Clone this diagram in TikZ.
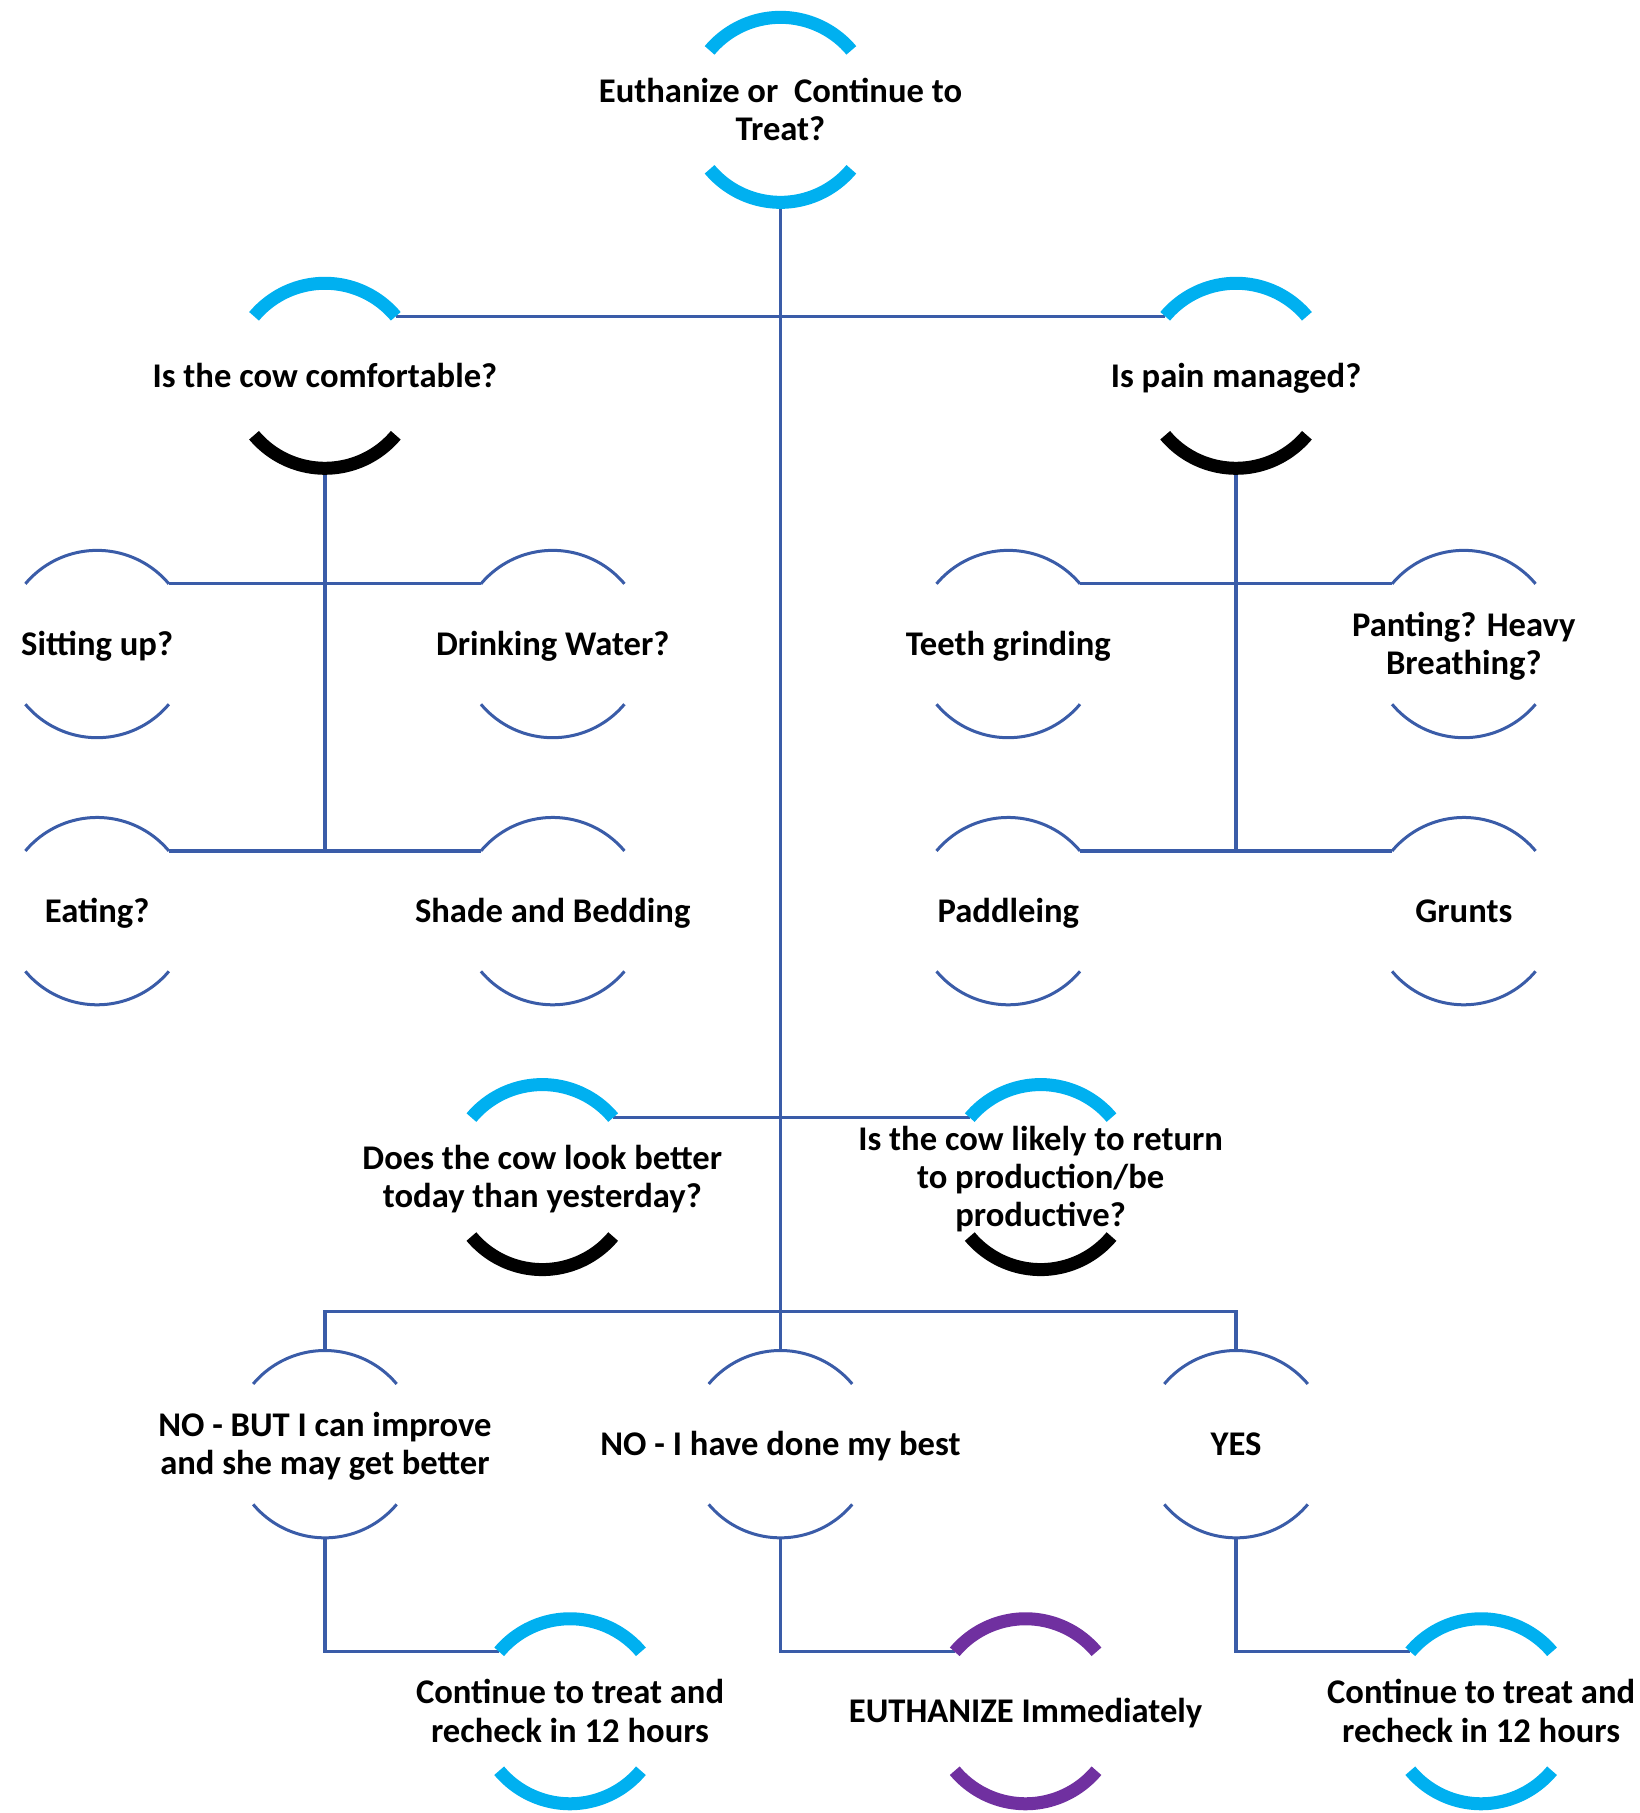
\documentclass[tikz,border=0pt]{standalone}
\usepackage{fontspec}
\setmainfont{Carlito}
\usetikzlibrary{calc}
\pgfdeclarelayer{background}
\pgfsetlayers{background,main}
\definecolor{cyanarc}{HTML}{00B0F0}
\definecolor{lineblue}{HTML}{3A5CA8}
\definecolor{purplearc}{HTML}{7030A0}
\tikzset{
  txt/.style={font=\bfseries\fontsize{17.3}{19.1}\selectfont, align=center, inner sep=0pt},
  conn/.style={draw=lineblue, line width=1.6pt},
  cyanthick/.style={draw=cyanarc, line width=6.5pt},
  blackthick/.style={draw=black, line width=6.5pt},
  purplethick/.style={draw=purplearc, line width=6.5pt},
  thinarc/.style={draw=lineblue, line width=1.5pt},
}
% name, x, y, radius, top style, bottom style, text
\newcommand\qnode[7]{%
  \node[txt] (#1) at (#2,#3-3.5) {#7};
  \coordinate (#1-c) at (#2,#3);
  \path (#1-c) ++(140:#4) coordinate (#1-tl);
  \path (#1-c) ++(40:#4) coordinate (#1-tr);
  \path (#1-c) ++(90:#4) coordinate (#1-top);
  \path (#1-c) ++(-90:#4) coordinate (#1-bot);
  \draw[#5] (#1-tr) arc[start angle=40,end angle=140,radius=#4];
  \draw[#6] ([shift={(220:#4)}]#1-c) arc[start angle=220,end angle=320,radius=#4];
}
\begin{document}
\begin{tikzpicture}[x=0.578pt,y=0.578pt]
\useasboundingbox (0,0) rectangle (1418,-1568);
\qnode{top}{675}{-95}{80}{cyanthick}{cyanthick}{\strut Euthanize or\ \ Continue to\strut\\\strut Treat?\strut}
\qnode{comf}{281}{-325}{80}{cyanthick}{blackthick}{\strut Is the cow comfortable?\strut}
\qnode{pain}{1069}{-325}{80}{cyanthick}{blackthick}{\strut Is pain managed?\strut}
\qnode{sit}{84}{-557}{81}{thinarc}{thinarc}{\strut Sitting up?\strut}
\qnode{drink}{478}{-557}{81}{thinarc}{thinarc}{\strut Drinking Water?\strut}
\qnode{eat}{84}{-788}{81}{thinarc}{thinarc}{\strut Eating?\strut}
\qnode{shade}{478}{-788}{81}{thinarc}{thinarc}{\strut Shade and Bedding\strut}
\qnode{teeth}{872}{-557}{81}{thinarc}{thinarc}{\strut Teeth grinding\strut}
\qnode{pant}{1266}{-557}{81}{thinarc}{thinarc}{\strut Panting? Heavy\strut\\\strut Breathing?\strut}
\qnode{padd}{872}{-788}{81}{thinarc}{thinarc}{\strut Paddleing\strut}
\qnode{grunt}{1266}{-788}{81}{thinarc}{thinarc}{\strut Grunts\strut}
\qnode{better}{469}{-1018}{80}{cyanthick}{blackthick}{\strut Does the cow look better\strut\\\strut today than yesterday?\strut}
\qnode{likely}{900}{-1018}{80}{cyanthick}{blackthick}{\strut Is the cow likely to return\strut\\\strut to production/be\strut\\\strut productive?\strut}
\qnode{no1}{281}{-1249}{81}{thinarc}{thinarc}{\strut NO - BUT I can improve\strut\\\strut and she may get better\strut}
\qnode{no2}{675}{-1249}{81}{thinarc}{thinarc}{\strut NO - I have done my best\strut}
\qnode{yes}{1069}{-1249}{81}{thinarc}{thinarc}{\strut YES\strut}
\qnode{cont1}{493}{-1480}{80}{cyanthick}{cyanthick}{\strut Continue to treat and\strut\\\strut recheck in 12 hours\strut}
\qnode{euth}{887}{-1480}{80}{purplethick}{purplethick}{\strut EUTHANIZE Immediately\strut}
\qnode{cont2}{1281}{-1480}{80}{cyanthick}{cyanthick}{\strut Continue to treat and\strut\\\strut recheck in 12 hours\strut}
\coordinate (j3) at (675,-1134);
\begin{pgfonlayer}{background}
\draw[conn] (top-bot) -- (no2-top);
\draw[conn] (comf-tr) -- (pain-tl);
\draw[conn] (comf-bot) -- (comf-bot |- eat-tr);
\draw[conn] (sit-tr) -- (drink-tl);
\draw[conn] (eat-tr) -- (shade-tl);
\draw[conn] (pain-bot) -- (pain-bot |- padd-tr);
\draw[conn] (teeth-tr) -- (pant-tl);
\draw[conn] (padd-tr) -- (grunt-tl);
\draw[conn] (better-tr) -- (likely-tl);
\draw[conn] (no1-top) |- (j3) -| (yes-top);
\draw[conn] (no1-bot) |- (cont1-tl);
\draw[conn] (no2-bot) |- (euth-tl);
\draw[conn] (yes-bot) |- (cont2-tl);
\end{pgfonlayer}
\end{tikzpicture}
\end{document}
